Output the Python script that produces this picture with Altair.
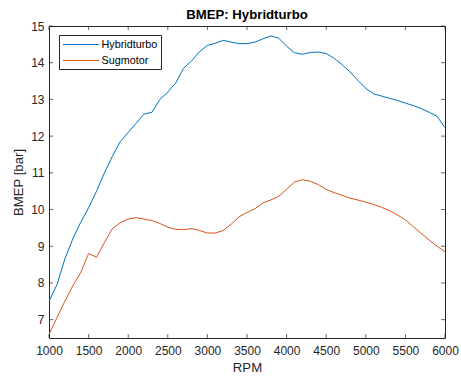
import altair as alt
import pandas as pd

rpm = list(range(1000, 6001, 100))
hybridturbo = [7.50, 7.95, 8.65, 9.20, 9.65, 10.05, 10.50, 11.00, 11.45, 11.85,
               12.10, 12.35, 12.60, 12.65, 13.00, 13.20, 13.45, 13.85, 14.05, 14.30,
               14.47, 14.53, 14.61, 14.56, 14.52, 14.52, 14.56, 14.65, 14.73, 14.67,
               14.45, 14.27, 14.23, 14.28, 14.29, 14.25, 14.12, 13.95, 13.75, 13.52,
               13.30, 13.15, 13.09, 13.03, 12.97, 12.90, 12.83, 12.75, 12.65, 12.54,
               12.23]
sugmotor = [6.60, 7.05, 7.50, 7.92, 8.28, 8.80, 8.70, 9.10, 9.48, 9.64,
            9.74, 9.78, 9.74, 9.70, 9.62, 9.52, 9.46, 9.45, 9.48, 9.43,
            9.36, 9.36, 9.43, 9.60, 9.80, 9.92, 10.02, 10.18, 10.26, 10.36,
            10.55, 10.75, 10.81, 10.77, 10.68, 10.55, 10.46, 10.39, 10.31, 10.26,
            10.20, 10.14, 10.06, 9.97, 9.85, 9.72, 9.53, 9.35, 9.17, 9.00,
            8.85]
series_names = ["Hybridturbo", "Sugmotor"]
series_colors = ["#0072BD", "#D95319"]
x_ticks = [1000, 1500, 2000, 2500, 3000, 3500, 4000, 4500, 5000, 5500, 6000]
y_ticks = [7, 8, 9, 10, 11, 12, 13, 14, 15]

W, H = 396, 312
AX = "#262626"

df = pd.concat([
    pd.DataFrame({"RPM": rpm, "BMEP": hybridturbo, "Serie": series_names[0]}),
    pd.DataFrame({"RPM": rpm, "BMEP": sugmotor, "Serie": series_names[1]}),
])

xscale = alt.Scale(domain=[1000, 6000], nice=False, zero=False)
yscale = alt.Scale(domain=[6.5, 15], nice=False, zero=False)
x_axis = alt.Axis(values=x_ticks, title="RPM", ticks=False, grid=False,
                  domain=False, labelPadding=7, titlePadding=5,
                  labelOverlap=False, labelFlush=False, format="d")
y_axis = alt.Axis(values=y_ticks, title="BMEP [bar]", ticks=False, grid=False,
                  domain=False, labelPadding=5, titlePadding=5,
                  labelOverlap=False, labelFlush=False, format="d")

lines = alt.Chart(df).mark_line(strokeWidth=1, clip=True).encode(
    x=alt.X("RPM:Q", scale=xscale, axis=x_axis),
    y=alt.Y("BMEP:Q", scale=yscale, axis=y_axis),
    color=alt.Color("Serie:N",
                    scale=alt.Scale(domain=series_names, range=series_colors),
                    legend=alt.Legend(title=None, orient="none", legendX=10, legendY=9,
                                      symbolType="M-3,0L3,0", symbolSize=144,
                                      symbolStrokeWidth=1, symbolOffset=12.5,
                                      labelFontSize=10.8,
                                      labelColor="#000000", labelOffset=14,
                                      padding=3, rowPadding=4,
                                      strokeColor=AX, fillColor="white",
                                      labelFont="Liberation Sans")),
)

xt = pd.DataFrame({"t": x_ticks})
yt = pd.DataFrame({"t": y_ticks})
tick_color = AX
xb = alt.Chart(xt).mark_tick(color=tick_color, size=4, thickness=1, orient="vertical").encode(
    x=alt.X("t:Q", scale=xscale, axis=x_axis), y=alt.value(H - 2))
xtp = alt.Chart(xt).mark_tick(color=tick_color, size=4, thickness=1, orient="vertical").encode(
    x=alt.X("t:Q", scale=xscale, axis=x_axis), y=alt.value(2))
yl = alt.Chart(yt).mark_tick(color=tick_color, size=4, thickness=1, orient="horizontal").encode(
    y=alt.Y("t:Q", scale=yscale, axis=y_axis), x=alt.value(2))
yr = alt.Chart(yt).mark_tick(color=tick_color, size=4, thickness=1, orient="horizontal").encode(
    y=alt.Y("t:Q", scale=yscale, axis=y_axis), x=alt.value(W - 2))

chart = alt.layer(lines, xb, xtp, yl, yr).properties(
    width=W, height=H,
    background="white",
    title=alt.TitleParams("BMEP: Hybridturbo", fontSize=13.2, fontWeight="bold",
                          font="Liberation Sans", color="#000000", anchor="middle",
                          offset=-2),
    autosize=alt.AutoSizeParams(type="none"),
    padding={"left": 49, "top": 26, "right": 16, "bottom": 41},
).configure_view(stroke=AX, strokeWidth=1).configure_axis(
    labelFont="Liberation Sans", titleFont="Liberation Sans",
    labelFontSize=12, titleFontSize=13.2, labelColor=AX, titleColor=AX,
    titleFontWeight="normal", labelOverlap=False,
).configure_legend(strokeColor=AX, fillColor="white")

chart.save("out.html", embed_options={"renderer": "svg", "actions": False})
